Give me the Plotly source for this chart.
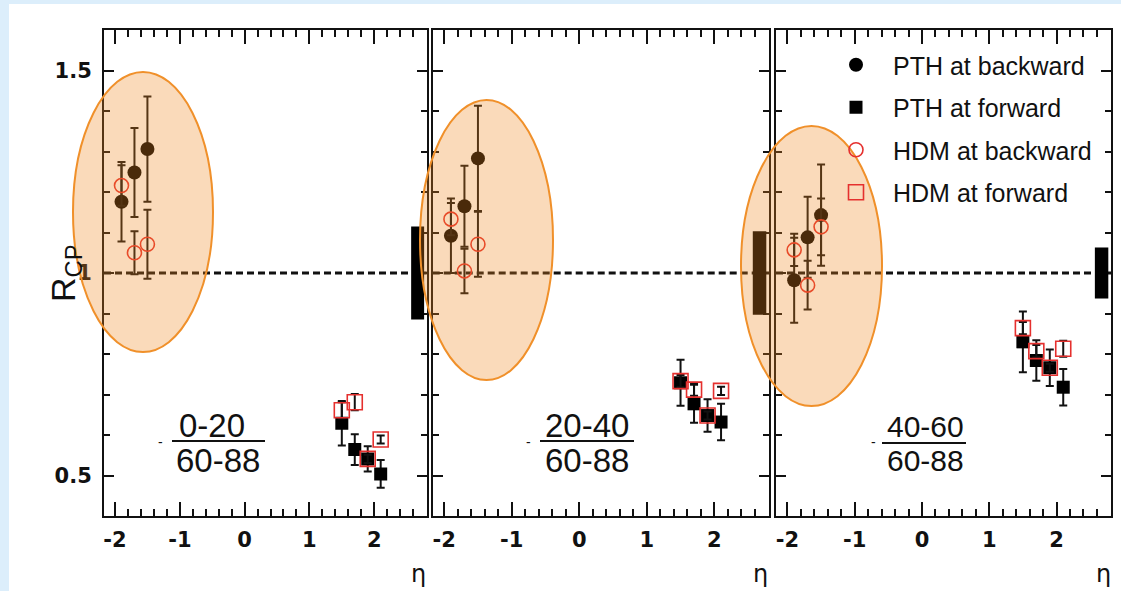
import plotly.graph_objects as go

W, H = 1121, 591

# ---------------- data ----------------
eta_bwd = [-1.9, -1.7, -1.5]
eta_fwd = [1.5, 1.7, 1.9, 2.1]

centralities = ["0-20", "20-40", "40-60"]
peripheral = "60-88"

pth_bwd = [[1.176, 1.248, 1.306], [1.092, 1.165, 1.283], [0.982, 1.088, 1.143]]
pth_bwd_err = [[0.098, 0.11, 0.13], [0.092, 0.10, 0.13], [0.105, 0.10, 0.125]]
hdm_bwd = [[1.216, 1.050, 1.071], [1.133, 1.005, 1.071], [1.057, 0.970, 1.114]]
hdm_bwd_err = [[0.05, 0.053, 0.085], [0.04, 0.055, 0.08], [0.04, 0.06, 0.07]]

pth_fwd = [[0.629, 0.564, 0.541, 0.504], [0.729, 0.677, 0.648, 0.632], [0.830, 0.784, 0.766, 0.718]]
pth_fwd_err = [[0.055, 0.038, 0.031, 0.034], [0.057, 0.047, 0.040, 0.045], [0.075, 0.050, 0.045, 0.045]]
hdm_fwd = [[0.661, 0.681, 0.541, 0.589], [0.733, 0.712, 0.648, 0.709], [0.864, 0.807, 0.766, 0.813]]
hdm_fwd_err = [[0.02, 0.02, 0.01, 0.01], [0.015, 0.015, 0.01, 0.01], [0.015, 0.015, 0.01, 0.02]]

norm_unc = [0.115, 0.103, 0.063]
norm_box_eta = [2.57, 2.77]

legend_names = ["PTH at backward", "PTH at forward", "HDM at backward", "HDM at forward"]

x_tickvals = [-2, -1, 0, 1, 2]
x_ticktext = ["-2", "-1", "0", "1", "2"]
y_tickvals = [0.5, 1.0, 1.5]
y_ticktext = ["0.5", "1", "1.5"]

x_range = [-2.17, 2.81]
y_range = [0.4, 1.6]

# ---------------- layout geometry (pixels) ----------------
panel_px = [(104, 426.7), (432.7, 769), (776, 1111)]
top_px, bot_px = 30, 516


def fx(p):
    return p / W


def fy(p):
    return 1 - p / H


RED = "#E5302E"
INK = "#111111"

fig = go.Figure()

for i in range(3):
    xa = "x" if i == 0 else f"x{i + 1}"
    ya = "y" if i == 0 else f"y{i + 1}"
    show = i == 0
    err_style = dict(type="data", thickness=2, width=4, color=INK)
    fig.add_trace(go.Scatter(
        x=eta_bwd, y=pth_bwd[i], mode="markers", xaxis=xa, yaxis=ya,
        name=legend_names[0], legendgroup="g0", showlegend=show,
        marker=dict(symbol="circle", size=14, color="black"),
        error_y=dict(array=pth_bwd_err[i], **err_style)))
    fig.add_trace(go.Scatter(
        x=eta_fwd, y=pth_fwd[i], mode="markers", xaxis=xa, yaxis=ya,
        name=legend_names[1], legendgroup="g1", showlegend=show,
        marker=dict(symbol="square", size=13, color="black"),
        error_y=dict(array=pth_fwd_err[i], **err_style)))
    fig.add_trace(go.Scatter(
        x=eta_bwd, y=hdm_bwd[i], mode="markers", xaxis=xa, yaxis=ya,
        name=legend_names[2], legendgroup="g2", showlegend=show,
        marker=dict(symbol="circle-open", size=14, color=RED, line=dict(width=1.6, color=RED)),
        error_y=dict(array=hdm_bwd_err[i], **err_style)))
    fig.add_trace(go.Scatter(
        x=eta_fwd, y=hdm_fwd[i], mode="markers", xaxis=xa, yaxis=ya,
        name=legend_names[3], legendgroup="g3", showlegend=show,
        marker=dict(symbol="square-open", size=15, color=RED, line=dict(width=1.6, color=RED)),
        error_y=dict(array=hdm_fwd_err[i], **err_style)))

axis_common = dict(
    showline=True, linewidth=2, linecolor=INK, mirror="ticks",
    ticks="inside", tickcolor=INK, showgrid=False, zeroline=False,
)
tick_font = dict(family="DejaVu Sans", size=21, color=INK, weight="bold")

shapes = []
annotations = []

for i, (l, r) in enumerate(panel_px):
    sfx = "" if i == 0 else str(i + 1)
    fig.layout["xaxis" + sfx] = dict(
        axis_common, domain=[fx(l), fx(r)], range=x_range, anchor="y" + sfx,
        tickmode="array", tickvals=x_tickvals, ticktext=x_ticktext,
        ticklen=14, tickwidth=2,
        minor=dict(dtick=0.2, tick0=0, ticklen=7, tickwidth=1.5, ticks="inside", tickcolor=INK),
        tickfont=tick_font, ticklabelstandoff=4,
    )
    fig.layout["yaxis" + sfx] = dict(
        axis_common, domain=[fy(bot_px), fy(top_px)], range=y_range, anchor="x" + sfx,
        tickmode="array", tickvals=y_tickvals, ticktext=y_ticktext,
        ticklen=10, tickwidth=2, showticklabels=(i == 0),
        minor=dict(dtick=0.1, tick0=0, ticklen=6, tickwidth=1.5, ticks="inside", tickcolor=INK),
        tickfont=tick_font, ticklabelstandoff=6,
    )
    # dashed unity line
    shapes.append(dict(type="line", xref=f"x{sfx} domain", yref="y" + sfx,
                       x0=0, x1=1, y0=1, y1=1, layer="below",
                       line=dict(color=INK, width=3, dash="7px,4px")))
    # normalisation uncertainty box
    shapes.append(dict(type="rect", xref="x" + sfx, yref="y" + sfx,
                       x0=norm_box_eta[0], x1=norm_box_eta[1],
                       y0=1 - norm_unc[i], y1=1 + norm_unc[i],
                       fillcolor="black", line=dict(width=0), layer="above"))

# ellipses (overlay highlights), pixel geometry
ellipses = [(73, 72, 213, 352), (420, 100, 553, 380), (741, 126, 882, 406)]
for (x0, y0, x1, y1) in ellipses:
    shapes.append(dict(type="circle", xref="paper", yref="paper",
                       x0=fx(x0), x1=fx(x1), y0=fy(y1), y1=fy(y0), layer="above",
                       fillcolor="rgba(239,135,32,0.31)",
                       line=dict(color="#F0902A", width=2)))

# centrality fraction labels
frac = [
    dict(cx=212, cx2=218, top=425, line=(172, 265, 441), bot=460, dash=160, size=33),
    dict(cx=587, cx2=587, top=425, line=(540, 634, 441), bot=460, dash=528, size=33),
    dict(cx=925, cx2=925, top=426, line=(882, 966, 443), bot=460, dash=873, size=30),
]
for i, f in enumerate(frac):
    annotations.append(dict(xref="paper", yref="paper", x=fx(f["cx"]), y=fy(f["top"]),
                            text=centralities[i], showarrow=False,
                            font=dict(family="Liberation Sans", size=f["size"], color=INK),
                            xanchor="center", yanchor="middle"))
    annotations.append(dict(xref="paper", yref="paper", x=fx(f["cx2"]), y=fy(f["bot"]),
                            text=peripheral, showarrow=False,
                            font=dict(family="Liberation Sans", size=f["size"], color=INK),
                            xanchor="center", yanchor="middle"))
    lx0, lx1, ly = f["line"]
    shapes.append(dict(type="line", xref="paper", yref="paper",
                       x0=fx(lx0), x1=fx(lx1), y0=fy(ly), y1=fy(ly),
                       line=dict(color=INK, width=2)))
    annotations.append(dict(xref="paper", yref="paper", x=fx(f["dash"]), y=fy(442),
                            text="-", showarrow=False,
                            font=dict(family="Liberation Sans", size=14, color=INK),
                            xanchor="center", yanchor="middle"))

# eta axis labels
for xp in (418, 760, 1103):
    annotations.append(dict(xref="paper", yref="paper", x=fx(xp), y=fy(574),
                            text="η", showarrow=False,
                            font=dict(family="DejaVu Sans", size=24, color=INK),
                            xanchor="center", yanchor="middle"))

# y title
annotations.append(dict(xref="paper", yref="paper", x=fx(66), y=fy(273),
                        text="R<sub>CP</sub>", textangle=-90, showarrow=False,
                        font=dict(family="Liberation Sans", size=34, color=INK),
                        xanchor="center", yanchor="middle"))

# white page on light-blue slide
shapes.insert(0, dict(type="rect", xref="paper", yref="paper",
                      x0=fx(9), x1=1.01, y0=-0.01, y1=fy(4),
                      fillcolor="white", line=dict(width=0), layer="below"))

fig.update_layout(
    width=W, height=H,
    margin=dict(l=0, r=0, t=0, b=0),
    paper_bgcolor="#DCEEFB", plot_bgcolor="rgba(0,0,0,0)",
    shapes=shapes, annotations=annotations,
    showlegend=True,
    legend=dict(x=fx(819), y=fy(42), xanchor="left", yanchor="top",
                bgcolor="rgba(0,0,0,0)", tracegroupgap=7, itemwidth=64,
                font=dict(family="Liberation Sans", size=25, color=INK)),
)

fig.write_html("out.html")
